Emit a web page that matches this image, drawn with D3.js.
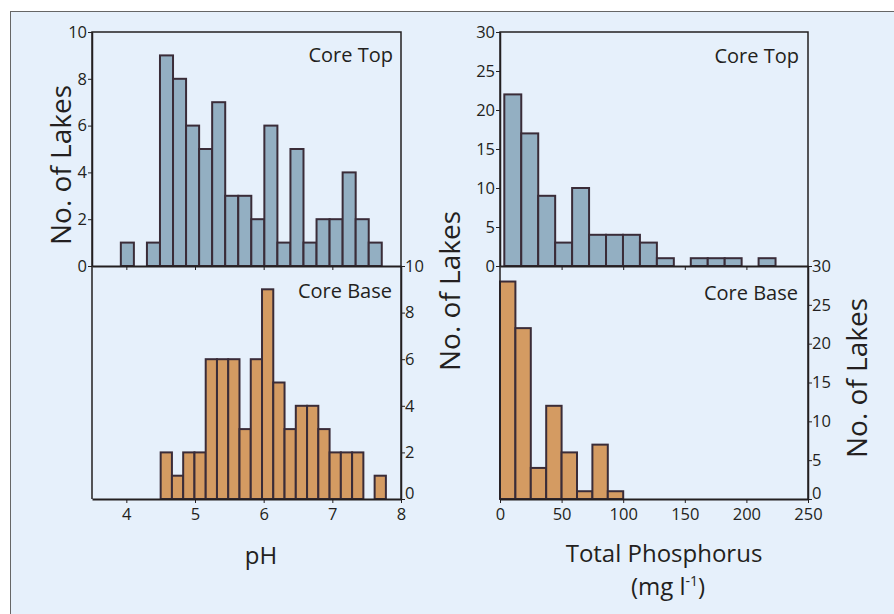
<!DOCTYPE html>
<html>
<head>
<meta charset="utf-8">
<script src="https://cdn.jsdelivr.net/npm/d3@7"></script>
<style>
  body { margin: 0; background: #fff; }
  text { font-family: "Open Sans", sans-serif; fill: #231f20; }
</style>
</head>
<body>
<script>
// pH histograms (bin start, bin width, counts)
const phTopStart = 3.92, phTopWidth = 0.19;
const phTopCounts = [1, 0, 1, 9, 8, 6, 5, 7, 3, 3, 2, 6, 1, 5, 1, 2, 2, 4, 2, 1];
const phBaseStart = 4.5, phBaseWidth = 0.164;
const phBaseCounts = [2, 1, 2, 2, 6, 6, 6, 3, 6, 9, 5, 3, 4, 4, 3, 2, 2, 2, 0, 1];

// total phosphorus histograms
const tpTopStart = 3.5, tpTopWidth = 13.76;
const tpTopCounts = [22, 17, 9, 3, 10, 4, 4, 4, 3, 1, 0, 1, 1, 1, 0, 1];
const tpBaseStart = 0, tpBaseWidth = 12.5;
const tpBaseCounts = [28, 22, 4, 12, 6, 1, 7, 1];

const phTicks = [4, 5, 6, 7, 8];
const phCountTicks = [0, 2, 4, 6, 8, 10];
const tpTicks = [0, 50, 100, 150, 200, 250];
const tpCountTicks = [0, 5, 10, 15, 20, 25, 30];

const width = 894, height = 614;
const topColor = "#93afc2", baseColor = "#d49b62", edge = "#3a2c38";

const svg = d3.select("body").append("svg")
  .attr("width", width)
  .attr("height", height);

svg.append("rect")
  .attr("x", 10.5).attr("y", 11.5)
  .attr("width", 900).attr("height", 700)
  .attr("fill", "#e6f0fb")
  .attr("stroke", "#666")
  .attr("stroke-width", 1);

const xPH = d3.scaleLinear([3.5, 8], [92, 401]);
const yPHTop = d3.scaleLinear([0, 10], [266, 32]);
const yPHBase = d3.scaleLinear([0, 10], [499, 266]);
const xTP = d3.scaleLinear([0, 250], [500, 808]);
const yTPTop = d3.scaleLinear([0, 30], [266, 32]);
const yTPBase = d3.scaleLinear([0, 30], [499, 266]);

const bins = (start, w, counts) =>
  counts.map((c, i) => ({ x0: start + i * w, x1: start + (i + 1) * w, n: c }))
    .filter(d => d.n > 0);

function bars(data, x, y, fill) {
  svg.append("g")
    .selectAll("rect")
    .data(data)
    .join("rect")
    .attr("x", d => x(d.x0))
    .attr("width", d => x(d.x1) - x(d.x0))
    .attr("y", d => y(d.n))
    .attr("height", d => y(0) - y(d.n))
    .attr("fill", fill)
    .attr("stroke", edge)
    .attr("stroke-width", 2);
}

bars(bins(phTopStart, phTopWidth, phTopCounts), xPH, yPHTop, topColor);
bars(bins(phBaseStart, phBaseWidth, phBaseCounts), xPH, yPHBase, baseColor);
bars(bins(tpTopStart, tpTopWidth, tpTopCounts), xTP, yTPTop, topColor);
bars(bins(tpBaseStart, tpBaseWidth, tpBaseCounts), xTP, yTPBase, baseColor);

function style(g, sw) {
  g.attr("font-family", null).attr("font-size", null);
  g.selectAll("text").attr("font-size", 16.5).attr("fill", "#231f20");
  g.selectAll("line").attr("stroke", "#231f20").attr("stroke-width", 1);
  g.select(".domain").attr("stroke", "#231f20").attr("stroke-width", sw);
}

// zero label of a right-hand axis sits on its tick, clear of the x labels
const liftZero = g => g.selectAll(".tick text").filter(d => d === 0).attr("dy", "-0.05em");

function frame(x, yTop, yBot) {
  const [l, r] = x.range();
  svg.append("path")
    .attr("d", `M${l},${yBot}V${yTop}H${r}V${yBot}`)
    .attr("fill", "none")
    .attr("stroke", "#231f20")
    .attr("stroke-width", 1.5);
}

// left: pH
frame(xPH, 32, 499);
svg.append("g").attr("transform", "translate(92,0)")
  .call(d3.axisLeft(yPHTop).tickValues(phCountTicks).tickSize(4).tickSizeOuter(0).tickPadding(1))
  .call(g => style(g, 1.5));
svg.append("g").attr("transform", "translate(0,266)")
  .call(d3.axisBottom(xPH).tickValues([4, 5, 6, 7]).tickFormat("").tickSize(4).tickSizeOuter(0))
  .call(g => style(g, 2));
svg.append("g").attr("transform", "translate(0,499)")
  .call(d3.axisBottom(xPH).tickValues(phTicks).tickFormat(d3.format("d")).tickSize(4).tickSizeOuter(0).tickPadding(5))
  .call(g => style(g, 2));
svg.append("g").attr("transform", "translate(401,0)")
  .call(d3.axisRight(yPHBase).tickValues(phCountTicks).tickSize(4).tickSizeOuter(0).tickPadding(0))
  .call(g => style(g, 1.5))
  .call(liftZero);

// right: total phosphorus
frame(xTP, 32, 499);
svg.append("g").attr("transform", "translate(500,0)")
  .call(d3.axisLeft(yTPTop).tickValues(tpCountTicks).tickSize(4).tickSizeOuter(0).tickPadding(1))
  .call(g => style(g, 1.5));
svg.append("g").attr("transform", "translate(0,266)")
  .call(d3.axisBottom(xTP).tickValues([50, 100, 150, 200]).tickFormat("").tickSize(4).tickSizeOuter(0))
  .call(g => style(g, 2));
svg.append("g").attr("transform", "translate(0,499)")
  .call(d3.axisBottom(xTP).tickValues(tpTicks).tickFormat(d3.format("d")).tickSize(4).tickSizeOuter(0).tickPadding(5))
  .call(g => style(g, 2));
svg.append("g").attr("transform", "translate(808,0)")
  .call(d3.axisRight(yTPBase).tickValues(tpCountTicks).tickSize(4).tickSizeOuter(0).tickPadding(0))
  .call(g => style(g, 1.5))
  .call(liftZero);

// panel captions
const captions = [
  { t: "Core Top", x: 393, y: 62 },
  { t: "Core Base", x: 392, y: 298 },
  { t: "Core Top", x: 799, y: 63 },
  { t: "Core Base", x: 798, y: 300 }
];
svg.append("g").selectAll("text")
  .data(captions)
  .join("text")
  .attr("x", d => d.x).attr("y", d => d.y)
  .attr("text-anchor", "end")
  .attr("font-size", 20)
  .text(d => d.t);

// y titles
const yTitles = [{ x: 71, y: 165 }, { x: 460, y: 291 }, { x: 867, y: 378 }];
svg.append("g").selectAll("text")
  .data(yTitles)
  .join("text")
  .attr("transform", d => `translate(${d.x},${d.y}) rotate(-90)`)
  .attr("text-anchor", "middle")
  .attr("font-size", 28)
  .text("No. of Lakes");

// x titles
svg.append("text")
  .attr("x", 261).attr("y", 564)
  .attr("text-anchor", "middle")
  .attr("font-size", 24)
  .text("pH");

svg.append("text")
  .attr("x", 664).attr("y", 562)
  .attr("text-anchor", "middle")
  .attr("font-size", 24)
  .text("Total Phosphorus");

const unit = svg.append("text")
  .attr("x", 668).attr("y", 595)
  .attr("text-anchor", "middle")
  .attr("font-size", 24);
unit.append("tspan").text("(mg l");
unit.append("tspan").attr("font-size", 14).attr("dy", -9).text("-1");
unit.append("tspan").attr("dy", 9).text(")");
</script>
</body>
</html>
